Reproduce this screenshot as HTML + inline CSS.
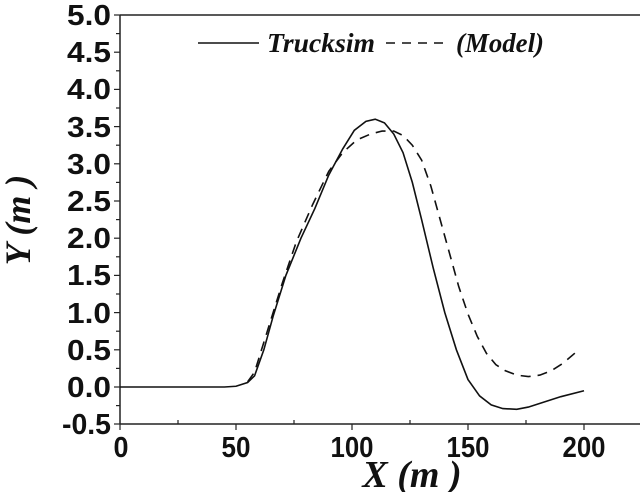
<!DOCTYPE html>
<html><head><meta charset="utf-8"><style>body{margin:0;background:#fff}</style></head><body>
<svg width="640" height="492" viewBox="0 0 640 492" xmlns="http://www.w3.org/2000/svg">
<g stroke="#222" stroke-width="1.5" fill="none">
<line x1="120" y1="15" x2="640" y2="15"/>
<line x1="120" y1="15" x2="120" y2="424"/>
<line x1="120" y1="424" x2="640" y2="424"/>
</g>
<g stroke="#222" stroke-width="1.2">
<line x1="114" y1="15" x2="120" y2="15"/><line x1="114" y1="52.2" x2="120" y2="52.2"/><line x1="114" y1="89.4" x2="120" y2="89.4"/><line x1="114" y1="126.6" x2="120" y2="126.6"/><line x1="114" y1="163.8" x2="120" y2="163.8"/><line x1="114" y1="201" x2="120" y2="201"/><line x1="114" y1="238.2" x2="120" y2="238.2"/><line x1="114" y1="275.4" x2="120" y2="275.4"/><line x1="114" y1="312.6" x2="120" y2="312.6"/><line x1="114" y1="349.8" x2="120" y2="349.8"/><line x1="114" y1="387" x2="120" y2="387"/><line x1="114" y1="424" x2="120" y2="424"/>
<line x1="116" y1="33.6" x2="120" y2="33.6"/><line x1="116" y1="70.8" x2="120" y2="70.8"/><line x1="116" y1="108" x2="120" y2="108"/><line x1="116" y1="145.2" x2="120" y2="145.2"/><line x1="116" y1="182.4" x2="120" y2="182.4"/><line x1="116" y1="219.6" x2="120" y2="219.6"/><line x1="116" y1="256.8" x2="120" y2="256.8"/><line x1="116" y1="294" x2="120" y2="294"/><line x1="116" y1="331.2" x2="120" y2="331.2"/><line x1="116" y1="368.4" x2="120" y2="368.4"/><line x1="116" y1="405.6" x2="120" y2="405.6"/>
<line x1="120" y1="424" x2="120" y2="430"/><line x1="236" y1="424" x2="236" y2="430"/><line x1="352" y1="424" x2="352" y2="430"/><line x1="468" y1="424" x2="468" y2="430"/><line x1="584" y1="424" x2="584" y2="430"/>
<line x1="178" y1="424" x2="178" y2="420"/><line x1="294" y1="424" x2="294" y2="420"/><line x1="410" y1="424" x2="410" y2="420"/><line x1="526" y1="424" x2="526" y2="420"/>
</g>
<g font-family="Liberation Sans, sans-serif" font-weight="bold" font-size="29" fill="#111" text-anchor="end" lengthAdjust="spacingAndGlyphs">
<text x="111" y="25" textLength="44" lengthAdjust="spacingAndGlyphs">5.0</text><text x="111" y="62" textLength="44" lengthAdjust="spacingAndGlyphs">4.5</text><text x="111" y="99" textLength="44" lengthAdjust="spacingAndGlyphs">4.0</text><text x="111" y="137" textLength="44" lengthAdjust="spacingAndGlyphs">3.5</text><text x="111" y="174" textLength="44" lengthAdjust="spacingAndGlyphs">3.0</text><text x="111" y="211" textLength="44" lengthAdjust="spacingAndGlyphs">2.5</text><text x="111" y="248" textLength="44" lengthAdjust="spacingAndGlyphs">2.0</text><text x="111" y="285" textLength="44" lengthAdjust="spacingAndGlyphs">1.5</text><text x="111" y="323" textLength="44" lengthAdjust="spacingAndGlyphs">1.0</text><text x="111" y="360" textLength="44" lengthAdjust="spacingAndGlyphs">0.5</text><text x="111" y="397" textLength="44" lengthAdjust="spacingAndGlyphs">0.0</text><text x="111" y="434" textLength="49" lengthAdjust="spacingAndGlyphs">-0.5</text>
</g>
<g font-family="Liberation Sans, sans-serif" font-weight="bold" font-size="29" fill="#111" text-anchor="middle">
<text x="121" y="457" textLength="15" lengthAdjust="spacingAndGlyphs">0</text><text x="236" y="457" textLength="29" lengthAdjust="spacingAndGlyphs">50</text><text x="352" y="457" textLength="43" lengthAdjust="spacingAndGlyphs">100</text><text x="468" y="457" textLength="43" lengthAdjust="spacingAndGlyphs">150</text><text x="584" y="457" textLength="43" lengthAdjust="spacingAndGlyphs">200</text>
</g>
<text x="412" y="487" font-family="Liberation Serif, serif" font-weight="bold" font-style="italic" font-size="38" text-anchor="middle" fill="#111">X (m )</text>
<text transform="translate(30,220) rotate(-90)" font-family="Liberation Serif, serif" font-weight="bold" font-style="italic" font-size="36" text-anchor="middle" fill="#111">Y (m )</text>
<line x1="198" y1="43" x2="259" y2="43" stroke="#111" stroke-width="1.6"/>
<text x="267" y="52" font-family="Liberation Serif, serif" font-weight="bold" font-style="italic" font-size="27" fill="#111" textLength="108" lengthAdjust="spacingAndGlyphs">Trucksim</text>
<line x1="386" y1="43" x2="448" y2="43" stroke="#111" stroke-width="1.6" stroke-dasharray="9,7"/>
<text x="456" y="52" font-family="Liberation Serif, serif" font-weight="bold" font-style="italic" font-size="27" fill="#111" textLength="88" lengthAdjust="spacingAndGlyphs">(Model)</text>
<g fill="none" stroke="#111" stroke-width="1.6" transform="translate(120,387) scale(2.32,-74.4)">
<path vector-effect="non-scaling-stroke" d="M0,0 L45,0 L50,0.01 L55,0.06 L58,0.15 L62,0.5 L66,0.95 L71.5,1.5 L78,2.0 L84,2.4 L90,2.85 L96,3.2 L101,3.45 L106,3.57 L110,3.6 L114,3.55 L118,3.4 L122,3.15 L126,2.75 L130,2.25 L135,1.6 L140,1.0 L145,0.5 L150,0.1 L155,-0.12 L160,-0.24 L165,-0.29 L171,-0.3 L176,-0.27 L182,-0.21 L190,-0.13 L200,-0.05"/>
<path vector-effect="non-scaling-stroke" stroke-dasharray="10,7" d="M55,0.07 L58,0.2 L61,0.5 L65,0.9 L70,1.4 L76,1.95 L83,2.45 L90,2.9 L96,3.15 L102,3.32 L108,3.4 L113,3.44 L118,3.44 L122,3.38 L126,3.25 L130,3.05 L134,2.7 L138,2.25 L142,1.8 L146,1.35 L150,0.98 L154,0.68 L158,0.45 L162,0.3 L166,0.22 L171,0.16 L176,0.14 L181,0.16 L186,0.22 L191,0.32 L197,0.48"/>
</g>
</svg>
</body></html>
